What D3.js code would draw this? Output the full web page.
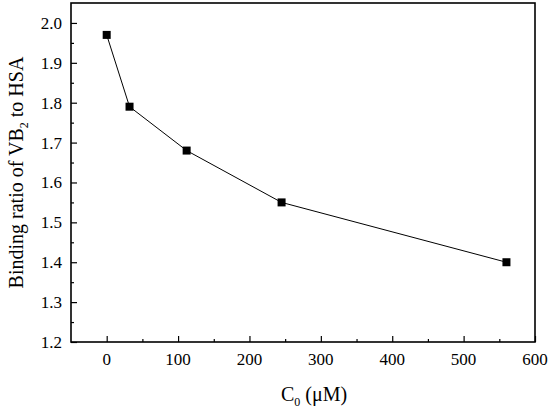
<!DOCTYPE html>
<html>
<head>
<meta charset="utf-8">
<script src="https://cdn.jsdelivr.net/npm/d3@7"></script>
<style>
body { margin: 0; background: #fff; }
text { font-family: "Liberation Serif", "Times New Roman", serif; fill: #000; }
</style>
</head>
<body>
<div id="chart-area"></div>
<script>
// data
var conc = [0, 32, 112, 245, 560];
var ratio = [1.97, 1.79, 1.68, 1.55, 1.40];
var xTicks = [0, 100, 200, 300, 400, 500, 600];
var yTicks = [1.2, 1.3, 1.4, 1.5, 1.6, 1.7, 1.8, 1.9, 2.0];

var width = 550,
	height = 410;
var margin = {top: 3, right: 15, bottom: 68, left: 71};
var w = width - margin.left - margin.right,
	h = height - margin.top - margin.bottom;

var svg = d3.select("#chart-area").append("svg")
	.attr("width", width).attr("height", height);
var g = svg.append("g")
	.attr("transform", "translate(" + margin.left + "," + margin.top + ")");

var x = d3.scaleLinear().domain([-50, 600]).range([0, w]);
var y = d3.scaleLinear().domain([1.2, 2.05]).range([h, 0]);

// minor ticks first, inward
g.append("g")
	.attr("transform", "translate(0," + h + ")")
	.call(d3.axisTop(x).tickValues(d3.range(50, 600, 100)).tickSize(3).tickFormat(""))
	.call(function(s) { s.select(".domain").remove(); });
g.append("g")
	.call(d3.axisRight(y).tickValues(d3.range(1.25, 2.0, 0.1)).tickSize(3).tickFormat(""))
	.call(function(s) { s.select(".domain").remove(); });

// major ticks, inward
g.append("g")
	.attr("transform", "translate(0," + h + ")")
	.call(d3.axisTop(x).tickValues(xTicks).tickSize(6).tickFormat(""))
	.call(function(s) { s.select(".domain").remove(); });
g.append("g")
	.call(d3.axisRight(y).tickValues(yTicks).tickSize(6).tickFormat(""))
	.call(function(s) { s.select(".domain").remove(); });
g.selectAll(".tick line").attr("stroke", "#000").attr("stroke-width", 1.2);

// tick labels
g.selectAll(".xlab").data(xTicks).enter().append("text")
	.attr("x", function(d) { return x(d); })
	.attr("y", h + 23)
	.attr("text-anchor", "middle")
	.style("font-size", "17px")
	.text(function(d) { return d; });
g.selectAll(".ylab").data(yTicks).enter().append("text")
	.attr("x", -9)
	.attr("y", function(d) { return y(d) + 6; })
	.attr("text-anchor", "end")
	.style("font-size", "17px")
	.text(function(d) { return d.toFixed(1); });

// frame
g.append("rect")
	.attr("width", w).attr("height", h)
	.attr("fill", "none").attr("stroke", "#000").attr("stroke-width", 1.6);

// line + markers
var pts = conc.map(function(c, i) { return [c, ratio[i]]; });
g.append("path")
	.datum(pts)
	.attr("fill", "none")
	.attr("stroke", "#000")
	.attr("stroke-width", 1)
	.attr("d", d3.line().x(function(d) { return x(d[0]); }).y(function(d) { return y(d[1]); }));
g.selectAll(".pt").data(pts).enter().append("rect")
	.attr("x", function(d) { return x(d[0]) - 4; })
	.attr("y", function(d) { return y(d[1]) - 4; })
	.attr("width", 8).attr("height", 8)
	.attr("fill", "#000");

// axis titles
var xt = svg.append("text")
	.attr("x", 314)
	.attr("y", 401)
	.attr("text-anchor", "middle")
	.style("font-size", "20px");
xt.append("tspan").text("C");
xt.append("tspan").attr("dy", 5).style("font-size", "12px").text("0");
xt.append("tspan").attr("dy", -5).text(" (\u03bcM)");

var yt = svg.append("text")
	.attr("transform", "translate(23," + (margin.top + h / 2) + ") rotate(-90)")
	.attr("text-anchor", "middle")
	.style("font-size", "20px");
yt.append("tspan").text("Binding ratio of VB");
yt.append("tspan").attr("dy", 5).style("font-size", "12px").text("2");
yt.append("tspan").attr("dy", -5).text(" to HSA");
</script>
</body>
</html>
